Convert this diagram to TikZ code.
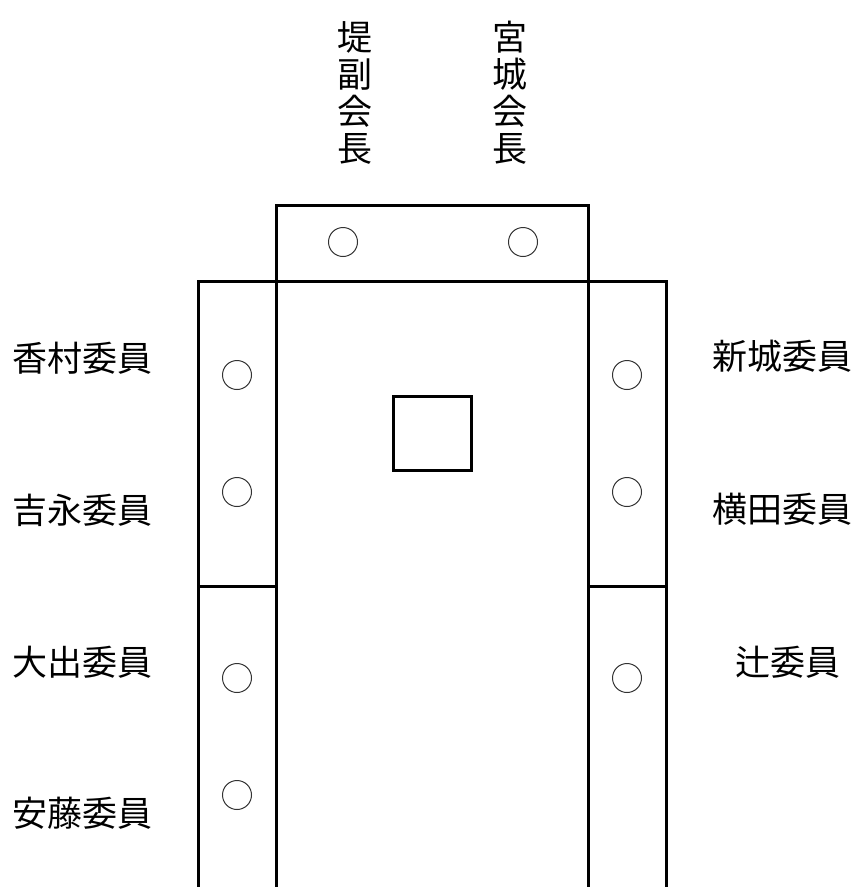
\documentclass[tikz,border=0pt]{standalone}
\usepackage{fontspec}
\setmainfont{Noto Sans CJK JP}
\begin{document}
\begin{tikzpicture}[x=1pt,y=-1pt,
  wall/.style={line width=3pt,line cap=rect},
  seat/.style={circle,draw=black!80,line width=1pt,minimum size=29pt,inner sep=0pt},
  lbl/.style={font=\fontsize{35}{37}\selectfont,inner sep=0pt},
  vlbl/.style={font=\fontsize{35}{37}\selectfont,inner sep=0pt,align=center}]
\useasboundingbox (0,0) rectangle (858,887);
% tables
\draw[wall] (276,281) -- (276,205) -- (588,205) -- (588,281);
\draw[wall] (198,887) -- (198,281) -- (666,281) -- (666,887);
\draw[wall] (276,281) -- (276,887);
\draw[wall] (588,281) -- (588,887);
\draw[wall] (198,586) -- (276,586);
\draw[wall] (588,586) -- (666,586);
\draw[wall] (393,396) rectangle (471,470);
% seats
\node[seat] (s1) at (343,242) {};
\node[seat] (s2) at (523,242) {};
\node[seat] (l1) at (237,375) {};
\node[seat] (l2) at (237,492) {};
\node[seat] (l3) at (237,678) {};
\node[seat] (l4) at (237,795) {};
\node[seat] (r1) at (627,375) {};
\node[seat] (r2) at (627,492) {};
\node[seat] (r3) at (627,678) {};
% labels
\node[vlbl] (t1) at (355,93) {堤\\副\\会\\長};
\node[vlbl] (t2) at (510,93) {宮\\城\\会\\長};
\node[lbl,anchor=west] (a1) at (12,358) {香村委員};
\node[lbl,anchor=west] (a2) at (12,510) {吉永委員};
\node[lbl,anchor=west] (a3) at (12,662) {大出委員};
\node[lbl,anchor=west] (a4) at (12,813) {安藤委員};
\node[lbl,anchor=east] (b1) at (853,356) {新城委員};
\node[lbl,anchor=east] (b2) at (853,509) {横田委員};
\node[lbl] (b3) at (788,662) {辻委員};
\end{tikzpicture}
\end{document}
